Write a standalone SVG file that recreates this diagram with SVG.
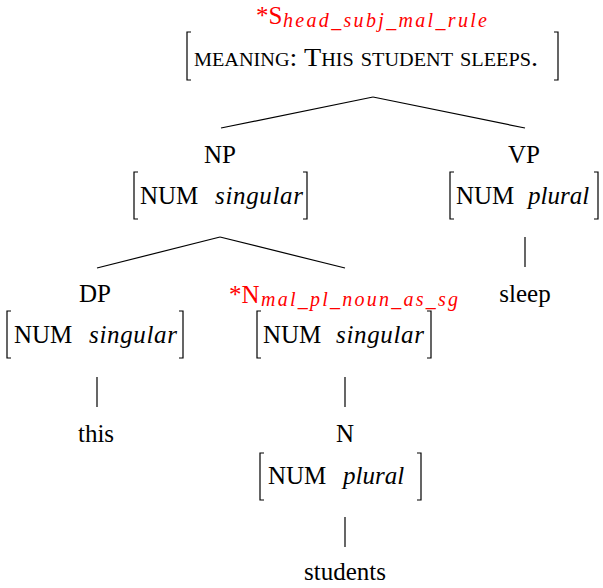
<svg xmlns="http://www.w3.org/2000/svg" width="603" height="588" viewBox="0 0 603 588">
<style>
.t{font-family:"Liberation Serif",serif;fill:#000}
.lab{font-size:25px;text-anchor:middle}
.av{font-size:25px}
.it{font-style:italic}
.red{fill:#ff0000}
.sub{font-size:20px;font-style:italic;fill:#ff0000}
.br{fill:none;stroke:#000;stroke-width:1.2}
.edge{stroke:#000;stroke-width:1.2;fill:none}
</style>
<rect width="603" height="588" fill="#fff"/>
<g id="connectors">
<line class="edge" x1="373" y1="97" x2="221" y2="128"/>
<line class="edge" x1="373" y1="97" x2="525" y2="128"/>
<line class="edge" x1="220" y1="237" x2="97" y2="268"/>
<line class="edge" x1="220" y1="237" x2="345" y2="268"/>
<line class="edge" x1="525" y1="237" x2="525" y2="267"/>
<line class="edge" x1="97" y1="377" x2="97" y2="407"/>
<line class="edge" x1="345" y1="377" x2="345" y2="407"/>
<line class="edge" x1="345" y1="517" x2="345" y2="547"/>
</g>
<g id="S">
<text x="256" y="24" class="t red" font-size="25">*S</text>
<text x="283" y="27" class="t sub" textLength="204" lengthAdjust="spacing">head_subj_mal_rule</text>
<path class="br" d="M191 32H187V80H191"/>
<path class="br" d="M554 32H558V80H554"/>
<text x="194" y="66" class="t" font-size="25" style="font-variant:small-caps" textLength="344" lengthAdjust="spacingAndGlyphs">meaning: This student sleeps.</text>
</g>
<g id="NP">
<text x="220" y="163" class="t lab">NP</text>
<path class="br" d="M138 172H134V219H138"/>
<path class="br" d="M303 172H307V219H303"/>
<text x="140" y="204" class="t av">NUM<tspan x="215" class="it" textLength="88" lengthAdjust="spacing">singular</tspan></text>
</g>
<g id="VP">
<text x="524" y="163" class="t lab">VP</text>
<path class="br" d="M454 172H450V219H454"/>
<path class="br" d="M594 172H598V219H594"/>
<text x="456" y="204" class="t av">NUM<tspan x="528" class="it">plural</tspan></text>
</g>
<g id="sleep">
<text x="525" y="302" class="t lab">sleep</text>
</g>
<g id="DP">
<text x="95" y="302" class="t lab">DP</text>
<path class="br" d="M11 311H7V358H11"/>
<path class="br" d="M179 311H183V358H179"/>
<text x="14" y="343" class="t av">NUM<tspan x="89" class="it" textLength="88" lengthAdjust="spacing">singular</tspan></text>
</g>
<g id="Nmal">
<text x="229" y="303" class="t red" font-size="25">*N</text>
<text x="261" y="306" class="t sub" textLength="197" lengthAdjust="spacing">mal_pl_noun_as_sg</text>
<path class="br" d="M261 311H257V358H261"/>
<path class="br" d="M427 311H431V358H427"/>
<text x="263" y="343" class="t av">NUM<tspan x="336" class="it" textLength="88" lengthAdjust="spacing">singular</tspan></text>
</g>
<g id="this">
<text x="96" y="442" class="t lab">this</text>
</g>
<g id="N">
<text x="345" y="442" class="t lab">N</text>
<path class="br" d="M264 453H260V500H264"/>
<path class="br" d="M417 453H421V500H417"/>
<text x="268" y="484" class="t av">NUM<tspan x="343" class="it">plural</tspan></text>
</g>
<g id="students">
<text x="345" y="580" class="t lab">students</text>
</g>
</svg>
